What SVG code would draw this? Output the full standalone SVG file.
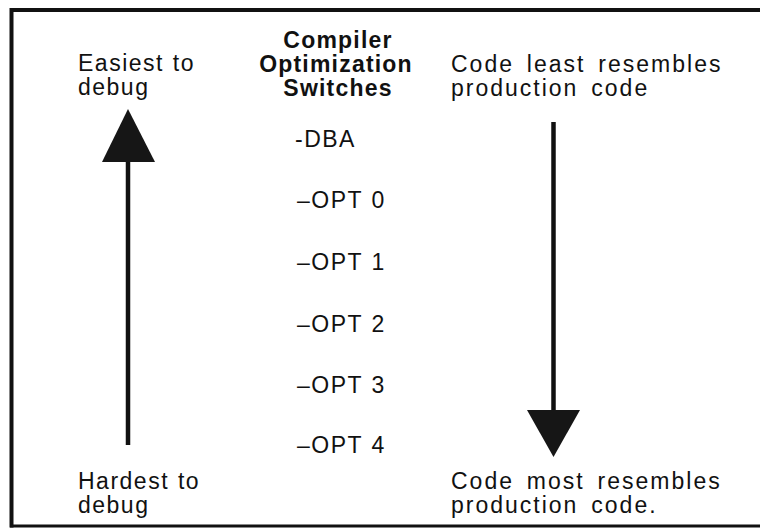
<svg xmlns="http://www.w3.org/2000/svg" width="760" height="529" viewBox="0 0 760 529">
<style>
  .t { font-family: "Liberation Sans", Arial, sans-serif; font-size: 23px; fill: #111; letter-spacing: 1.5px; word-spacing: 1px; }
  .r { letter-spacing: 2px; word-spacing: 4.5px; }
  .b { font-weight: bold; letter-spacing: 1.2px; }
  .shaft { stroke: #111; stroke-width: 4.5; fill: none; }
  .head { fill: #161616; }
  .frame { stroke: #111; fill: none; }
</style>
<rect width="760" height="529" fill="#fff"/>
<g id="frame">
  <line class="frame" x1="11.5" y1="10" x2="760" y2="10" stroke-width="4"/>
  <line class="frame" x1="11.5" y1="8" x2="11.5" y2="527.5" stroke-width="4"/>
  <line class="frame" x1="10" y1="526" x2="760" y2="526" stroke-width="3"/>
</g>
<g id="easiest">
  <text class="t" x="78" y="71">Easiest to</text>
  <text class="t" x="78" y="95">debug</text>
</g>
<g id="title">
  <text class="t b" x="338" y="48" text-anchor="middle">Compiler</text>
  <text class="t b" x="336" y="72" text-anchor="middle">Optimization</text>
  <text class="t b" x="338" y="96" text-anchor="middle">Switches</text>
</g>
<g id="least">
  <text class="t r" x="451" y="72">Code least resembles</text>
  <text class="t r" x="451" y="96">production code</text>
</g>
<g id="switches">
  <text class="t" x="295" y="147">-DBA</text>
  <text class="t" x="297" y="208">–OPT 0</text>
  <text class="t" x="297" y="270">–OPT 1</text>
  <text class="t" x="297" y="332">–OPT 2</text>
  <text class="t" x="297" y="393">–OPT 3</text>
  <text class="t" x="297" y="453">–OPT 4</text>
</g>
<g id="hardest">
  <text class="t" x="78" y="489">Hardest to</text>
  <text class="t" x="78" y="513">debug</text>
</g>
<g id="most">
  <text class="t r" x="451" y="489">Code most resembles</text>
  <text class="t r" x="451" y="513">production code.</text>
</g>
<g id="connectors">
  <g id="debug-arrow">
    <line class="shaft" x1="128" y1="160" x2="128" y2="445"/>
    <polygon class="head" points="128,109 155,162 102,162"/>
  </g>
  <g id="resemble-arrow">
    <line class="shaft" x1="553.5" y1="122" x2="553.5" y2="412"/>
    <polygon class="head" points="527,410 580,410 553.5,457"/>
  </g>
</g>
</svg>
